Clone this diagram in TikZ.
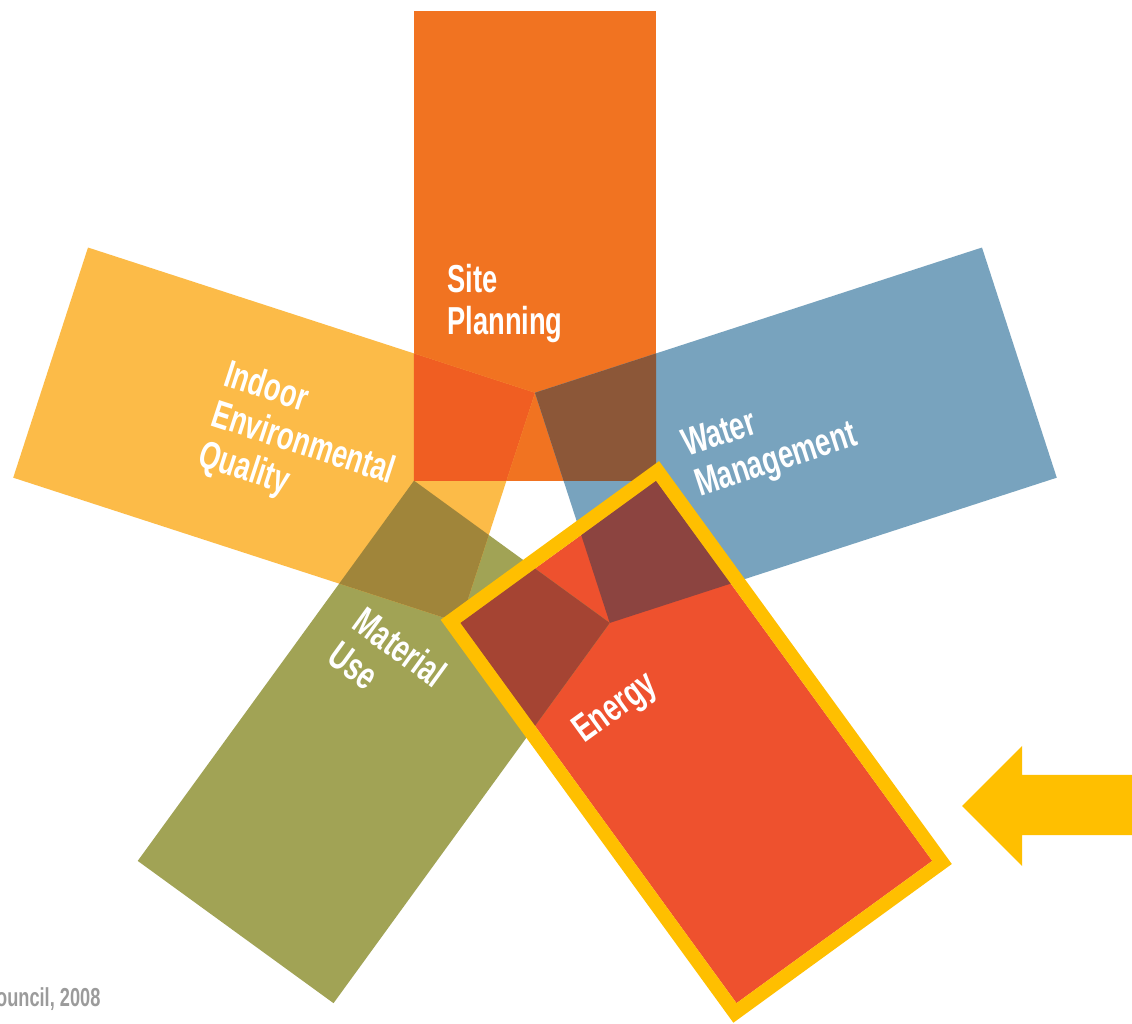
\documentclass[tikz,border=0pt]{standalone}
\usepackage{fontspec}
\newfontfamily\labelfont[FakeStretch=0.70]{Liberation Sans}
\definecolor{sitecol}{HTML}{F17321}
\definecolor{watercol}{HTML}{78A3BE}
\definecolor{energycol}{HTML}{EE512E}
\definecolor{materialcol}{HTML}{A1A355}
\definecolor{indoorcol}{HTML}{FCBB48}
\definecolor{sitewater}{HTML}{8C5738}
\definecolor{siteindoor}{HTML}{F05E22}
\definecolor{waterenergy}{HTML}{8C4440}
\definecolor{energymaterial}{HTML}{A54433}
\definecolor{materialindoor}{HTML}{A0853A}
\definecolor{hilite}{HTML}{FFBF00}
\definecolor{credit}{HTML}{9B9B9B}
\tikzset{
  petal/.style={rectangle, inner sep=0pt, outer sep=0pt, minimum width=242pt, minimum height=470pt},
  petaltext/.style={text=white, align=left, inner sep=0pt, font=\labelfont\bfseries\fontsize{39}{42}\selectfont},
}
\begin{document}
\begin{tikzpicture}[x=1pt,y=1pt]
  \fill[white] (-535,-504) rectangle (597,520);
  \useasboundingbox (-535,-504) rectangle (597,520);

  \node[petal, fill=sitecol] (site) at (90:274.3) {};
  \node[petal, fill=watercol, rotate=-72] (water) at (18:274.3) {};
  \node[petal, fill=energycol, rotate=-144] (energy) at (-54:274.3) {};
  \node[petal, fill=materialcol, rotate=144] (material) at (-126:274.3) {};
  \node[petal, fill=indoorcol, rotate=72] (indoor) at (162:274.3) {};

  % overlaps of neighbouring petals
  \foreach \a/\b/\c in {site/water/sitewater, site/indoor/siteindoor, water/energy/waterenergy, energy/material/energymaterial, material/indoor/materialindoor}{
    \begin{scope}
      \clip (\a.south west) -- (\a.south east) -- (\a.north east) -- (\a.north west) -- cycle;
      \fill[\c] (\b.south west) -- (\b.south east) -- (\b.north east) -- (\b.north west) -- cycle;
    \end{scope}
  }

  \node[petaltext] (sitelabel) at (-30,216) {Site\\Planning};
  \node[petaltext, rotate=18] (waterlabel) at (235,78) {Water\\Management};
  \node[petaltext, rotate=-18] (indoorlabel) at (-232,75) {Indoor\\Environmental\\Quality};
  \node[petaltext, rotate=-36] (materiallabel) at (-147,-144) {Material\\Use};
  \node[petaltext, rotate=36] (energylabel) at (81,-189) {Energy};

  \node[petal, draw=hilite, line width=14pt, minimum width=256pt, minimum height=484pt, rotate=-144] (box) at (energy) {};

  \fill[hilite] (427,-286) -- (487,-226) -- (487,-255) -- (600,-255) -- (600,-315) -- (487,-315) -- (487,-346) -- cycle;

  \node[anchor=west, inner sep=0pt, text=credit, font=\labelfont\bfseries\fontsize{26}{26}\selectfont] (credit) at (-539,-479) {ouncil, 2008};
\end{tikzpicture}
\end{document}
